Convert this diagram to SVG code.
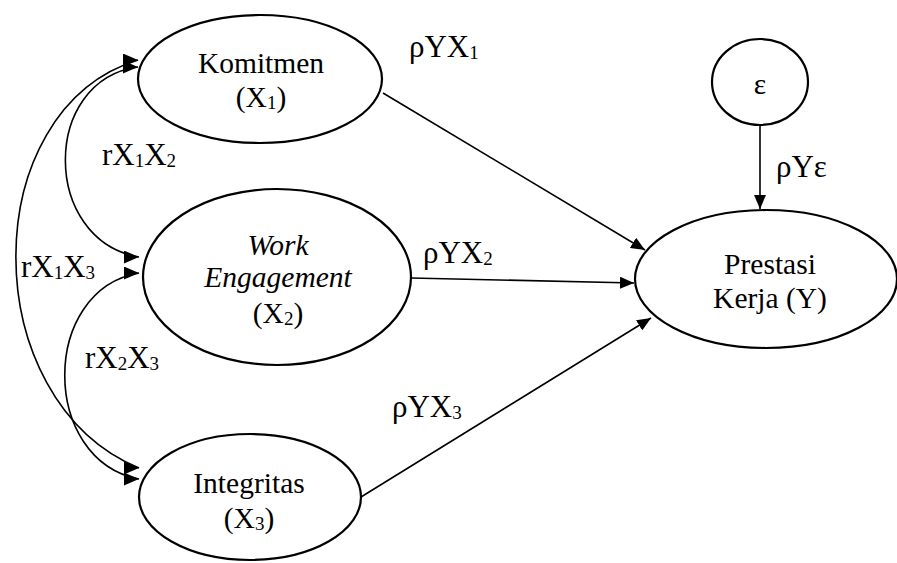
<svg xmlns="http://www.w3.org/2000/svg" width="897" height="563" viewBox="0 0 897 563">
<style>
text{font-family:"Liberation Serif","Times New Roman",serif;font-size:29.5px;fill:#000}
.l{font-size:31px}
.c{text-anchor:middle}
.s{font-size:19px}
.n{fill:#fff;stroke:#000;stroke-width:2.2}
.e{fill:none;stroke:#000;stroke-width:1.6}
</style>
<defs>
<marker id="a" viewBox="0 0 14 12" refX="14" refY="6" markerWidth="14" markerHeight="12" markerUnits="userSpaceOnUse" orient="auto"><path d="M0,0L14,6L0,12z" fill="#000"/></marker>
<marker id="h" viewBox="0 0 15 13" refX="15" refY="6.5" markerWidth="15" markerHeight="13" markerUnits="userSpaceOnUse" orient="0"><path d="M0,0L15,6.5L0,13z" fill="#000"/></marker>
</defs>
<g id="connectors">
<path class="e" d="M383,93L645,250" marker-end="url(#a)"/>
<path class="e" d="M411,278L634,283" marker-end="url(#a)"/>
<path class="e" d="M361,497L651,318" marker-end="url(#a)"/>
<path class="e" d="M760,125L760,209" marker-end="url(#a)"/>
<path class="e" d="M138,60C-25,110 -25,400 139,468" marker-start="url(#h)" marker-end="url(#h)"/>
<path class="e" d="M138,67C41,80 41,240 139,257" marker-start="url(#h)" marker-end="url(#h)"/>
<path class="e" d="M139,273C40,290 40,460 139,479" marker-start="url(#h)" marker-end="url(#h)"/>
<text class="l" x="409" y="57">ρYX<tspan class="s" dy="2">1</tspan></text>
<text class="l" x="423" y="263">ρYX<tspan class="s" dy="2">2</tspan></text>
<text class="l" x="392" y="417">ρYX<tspan class="s" dy="2">3</tspan></text>
<text class="l" x="776" y="177">ρYε</text>
<text class="l" x="102" y="165">rX<tspan class="s" dy="2">1</tspan><tspan dy="-2">X</tspan><tspan class="s" dy="2">2</tspan></text>
<text class="l" x="21" y="277">rX<tspan class="s" dy="2">1</tspan><tspan dy="-2">X</tspan><tspan class="s" dy="2">3</tspan></text>
<text class="l" x="85" y="368">rX<tspan class="s" dy="2">2</tspan><tspan dy="-2">X</tspan><tspan class="s" dy="2">3</tspan></text>
</g>
<g id="komitmen">
<ellipse class="n" cx="260" cy="79" rx="122" ry="64"/>
<text class="c" x="261" y="73">Komitmen</text>
<text class="c" x="261" y="107">(X<tspan class="s" dy="2">1</tspan><tspan dy="-2">)</tspan></text>
</g>
<g id="work-engagement">
<ellipse class="n" cx="277" cy="277" rx="134" ry="88"/>
<text class="c" x="278" y="255" font-style="italic">Work</text>
<text class="c" x="278" y="287" font-style="italic">Engagement</text>
<text class="c" x="278" y="323">(X<tspan class="s" dy="2">2</tspan><tspan dy="-2">)</tspan></text>
</g>
<g id="integritas">
<ellipse class="n" cx="250" cy="497" rx="111" ry="63"/>
<text class="c" x="249" y="493">Integritas</text>
<text class="c" x="249" y="528">(X<tspan class="s" dy="2">3</tspan><tspan dy="-2">)</tspan></text>
</g>
<g id="prestasi">
<ellipse class="n" cx="766" cy="279" rx="131" ry="69" stroke-width="3"/>
<text class="c" x="770" y="274">Prestasi</text>
<text class="c" x="770" y="308">Kerja (Y)</text>
</g>
<g id="epsilon">
<ellipse class="n" cx="760" cy="82" rx="48" ry="43" stroke-width="2.5"/>
<text class="c" x="760" y="94">ε</text>
</g>
</svg>
